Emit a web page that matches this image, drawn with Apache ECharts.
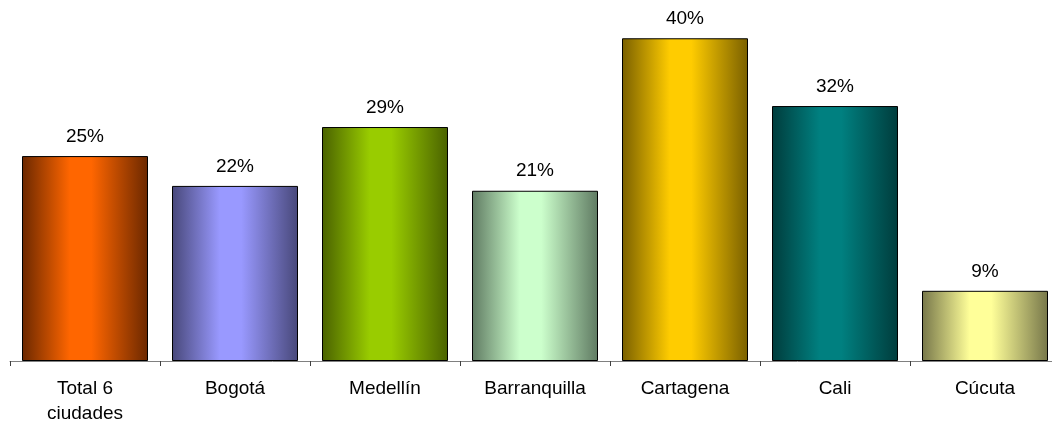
<!DOCTYPE html>
<html>
<head>
<meta charset="utf-8">
<script src="https://cdn.jsdelivr.net/npm/echarts@6/dist/echarts.min.js"></script>
<style>
html, body { margin: 0; padding: 0; background: #fff; overflow: hidden; }
#chart { width: 1060px; height: 426px; }
</style>
</head>
<body>
<div id="chart"></div>
<script>
// categorías y valores (%)
const categories = ['Total 6\nciudades', 'Bogotá', 'Medellín', 'Barranquilla', 'Cartagena', 'Cali', 'Cúcuta'];
const values = [25.4, 21.7, 29.0, 21.1, 40.0, 31.6, 8.7];
// colores de cada barra: [borde oscuro, centro claro]
const barColors = [
  ['#6b2800', '#ff6600'],
  ['#48487a', '#9999ff'],
  ['#4a6200', '#99cc00'],
  ['#5f7a62', '#ccffcc'],
  ['#7a6000', '#ffcc00'],
  ['#003c3c', '#008080'],
  ['#77774a', '#ffff99'],
];

function grad (c) {
  return new echarts.graphic.LinearGradient(0, 0, 1, 0, [
    { offset: 0, color: c[0] },
    { offset: 0.38, color: c[1] },
    { offset: 0.55, color: c[1] },
    { offset: 1, color: c[0] },
  ]);
}

const chart = echarts.init(document.getElementById('chart'));
chart.setOption({
  animation: false,
  grid: { left: 10, top: 6, right: 0, bottom: 58, containLabel: false },
  xAxis: {
    type: 'category',
    data: categories,
    axisLine: { lineStyle: { color: '#808080', width: 1 } },
    axisTick: { show: true, length: 5, lineStyle: { color: '#404040' } },
    axisLabel: {
      color: '#000',
      fontFamily: 'Liberation Sans, Arial',
      fontSize: 19,
      margin: 15,
      lineHeight: 25,
      interval: 0,
    },
  },
  yAxis: {
    type: 'value',
    min: 0,
    max: 44,
    show: false,
    splitLine: { show: false },
  },
  series: [{
    type: 'bar',
    barWidth: 126,
    data: values.map((v, i) => ({
      value: v,
      itemStyle: { color: grad(barColors[i]), borderColor: '#000', borderWidth: 1 },
    })),
    label: {
      show: true,
      position: 'top',
      distance: 10,
      color: '#000',
      fontFamily: 'Liberation Sans, Arial',
      fontSize: 19,
      formatter: p => Math.round(p.value) + '%',
    },
  }],
});
</script>
</body>
</html>
